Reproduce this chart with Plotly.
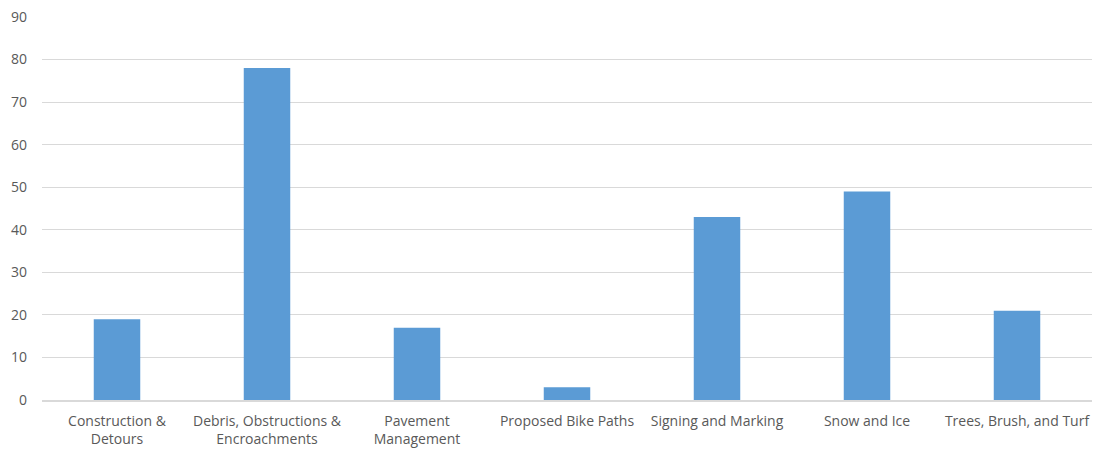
import plotly.graph_objects as go

categories = ["Construction &<br>Detours", "Debris, Obstructions &<br>Encroachments",
              "Pavement<br>Management", "Proposed Bike Paths", "Signing and Marking",
              "Snow and Ice", "Trees, Brush, and Turf"]
values = [19, 78, 17, 3, 43, 49, 21]
y_ticks = [0, 10, 20, 30, 40, 50, 60, 70, 80, 90]

fig = go.Figure(go.Bar(x=categories, y=values, marker_color="#5b9bd5",
                       marker_line_width=0, width=0.31))
fig.update_layout(
    width=1094, height=450,
    margin=dict(l=42, r=2, t=17, b=50),
    paper_bgcolor="white", plot_bgcolor="white",
    font=dict(family="Open Sans, Liberation Sans, sans-serif", size=14, color="#595959"),
    showlegend=False,
    bargap=0.69,
)
fig.update_xaxes(showgrid=False, showline=True, linecolor="#d9d9d9", linewidth=1.5,
                 ticks="", tickfont=dict(size=14), ticklabelstandoff=7)
fig.update_yaxes(range=[0, 90], tickvals=y_ticks, showgrid=True, gridcolor="#d9d9d9",
                 gridwidth=1, zeroline=False, showline=False, ticks="", ticklabelstandoff=14,
                 tickfont=dict(size=14))
fig.write_html("out.html")
